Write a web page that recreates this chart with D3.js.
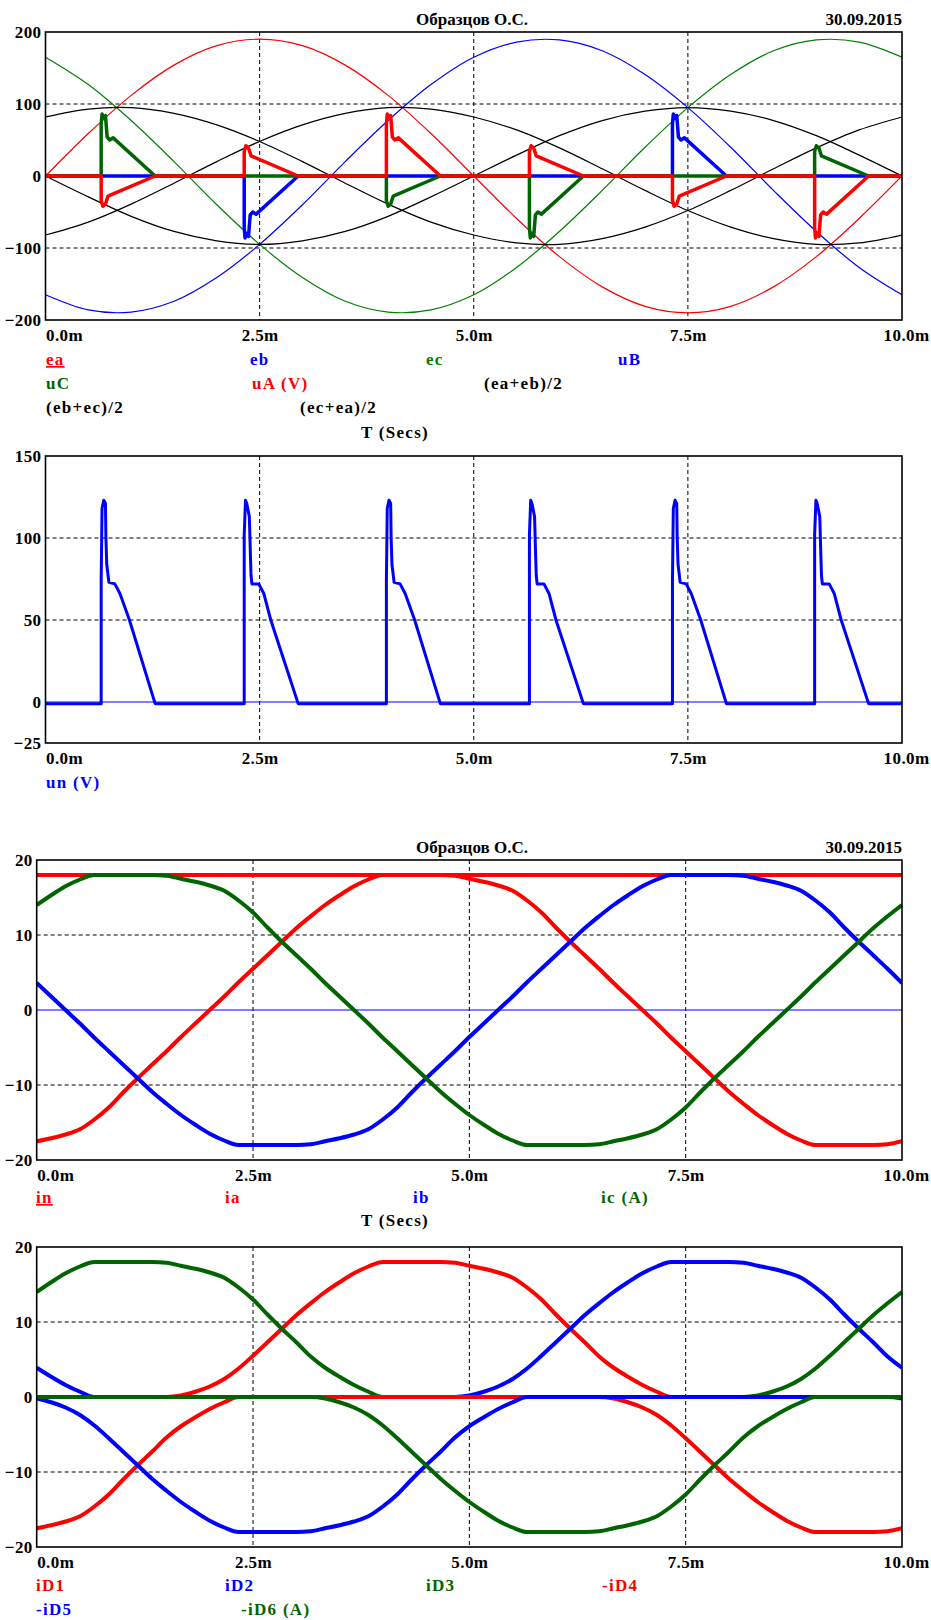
<!DOCTYPE html>
<html>
<head>
<meta charset="utf-8">
<script src="https://cdn.jsdelivr.net/npm/d3@7/dist/d3.min.js"></script>
<style>
  body { margin: 0; background: #fff; }
  #chart text { font-family: "Liberation Serif", "Times New Roman", Times, "DejaVu Serif", serif; font-weight: bold; font-size: 17px; letter-spacing: 0.4px; }
  #chart text.legend { letter-spacing: 1.3px; }
  #chart text.title { letter-spacing: 0; }
</style>
</head>
<body>
<svg id="chart" width="931" height="1620"></svg>
<script>
// time axis, ms
const xTicks = [0, 2.5, 5, 7.5, 10];
const xTickLabels = ['0.0m', '2.5m', '5.0m', '7.5m', '10.0m'];

// source voltages, sampled every 0.5 ms
const sineT = [0, 0.5, 1, 1.5, 2, 2.5, 3, 3.5, 4, 4.5, 5, 5.5, 6, 6.5, 7, 7.5, 8, 8.5, 9, 9.5, 10];
const ea = [0, 59, 112, 154, 181, 190, 181, 154, 112, 59, 0, -59, -112, -154, -181, -190, -181, -154, -112, -59, 0];
const eb = [-165, -186, -189, -174, -141, -95, -40, 20, 77, 127, 165, 186, 189, 174, 141, 95, 40, -20, -77, -127, -165];
const ec = [165, 127, 77, 20, -40, -95, -141, -174, -189, -186, -165, -127, -77, -20, 40, 95, 141, 174, 189, 186, 165];
const eab = [-82, -64, -39, -10, 20, 48, 71, 87, 95, 93, 82, 64, 39, 10, -20, -48, -71, -87, -95, -93, -82];
const ebc = [0, -29, -56, -77, -90, -95, -90, -77, -56, -29, 0, 29, 56, 77, 90, 95, 90, 77, 56, 29, 0];
const eca = [82, 93, 95, 87, 71, 48, 20, -10, -39, -64, -82, -93, -95, -87, -71, -48, -20, 10, 39, 64, 82];

// phase voltages (thick), read at the commutation spikes
const uAT = [0, 0.65, 0.65, 0.67, 0.70, 0.73, 0.77, 1.28, 2.32, 2.32, 2.34, 2.37, 2.40, 2.44, 2.95, 3.98, 3.98, 3.99, 4.01, 4.03, 4.05, 4.08, 4.12, 4.61, 5.65, 5.65, 5.67, 5.70, 5.73, 5.77, 6.28, 7.32, 7.32, 7.34, 7.37, 7.40, 7.44, 7.95, 8.98, 8.98, 8.99, 9.01, 9.03, 9.05, 9.08, 9.12, 9.61, 10];
const uAV = [0, 0, -34, -42, -39, -28, -26, 0, 0, 34, 42, 39, 28, 26, 0, 0, 72, 86, 80, 84, 54, 50, 53, 0, 0, 34, 42, 39, 28, 26, 0, 0, -34, -42, -39, -28, -26, 0, 0, -72, -86, -80, -84, -54, -50, -53, 0, 0];
const uBT = [0, 2.32, 2.32, 2.33, 2.35, 2.37, 2.39, 2.42, 2.46, 2.95, 7.32, 7.32, 7.33, 7.35, 7.37, 7.39, 7.42, 7.46, 7.95, 10];
const uBV = [0, 0, -72, -86, -80, -84, -54, -50, -53, 0, 0, 72, 86, 80, 84, 54, 50, 53, 0, 0];
const uCT = [0, 0.65, 0.65, 0.66, 0.68, 0.70, 0.72, 0.75, 0.79, 1.28, 3.98, 3.98, 4.00, 4.03, 4.06, 4.10, 4.61, 5.65, 5.65, 5.66, 5.68, 5.70, 5.72, 5.75, 5.79, 6.28, 8.98, 8.98, 9.00, 9.03, 9.06, 9.10, 9.61, 10];
const uCV = [0, 0, 72, 86, 80, 84, 54, 50, 53, 0, 0, -34, -42, -39, -28, -26, 0, 0, -72, -86, -80, -84, -54, -50, -53, 0, 0, 34, 42, 39, 28, 26, 0, 0];

// neutral voltage un
const unT = [0, 0.65, 0.65, 0.66, 0.68, 0.70, 0.705, 0.715, 0.74, 0.81, 0.87, 0.98, 1.28,
  2.32, 2.32, 2.335, 2.35, 2.38, 2.395, 2.40, 2.41, 2.49, 2.55, 2.63, 2.95,
  3.98, 3.98, 3.99, 4.01, 4.03, 4.035, 4.045, 4.07, 4.14, 4.20, 4.31, 4.61,
  5.65, 5.65, 5.665, 5.68, 5.71, 5.725, 5.73, 5.74, 5.82, 5.88, 5.96, 6.28,
  7.32, 7.32, 7.33, 7.35, 7.37, 7.375, 7.385, 7.41, 7.48, 7.54, 7.65, 7.95,
  8.98, 8.98, 8.995, 9.01, 9.04, 9.055, 9.06, 9.07, 9.15, 9.21, 9.29, 9.61, 10];
const unV = [-1, -1, 74, 118, 123, 121, 101, 84, 73, 72, 66, 50, -1,
  -1, 102, 123, 121, 113, 85, 77, 72, 72, 66, 50, -1,
  -1, 74, 118, 123, 121, 101, 84, 73, 72, 66, 50, -1,
  -1, 102, 123, 121, 113, 85, 77, 72, 72, 66, 50, -1,
  -1, 74, 118, 123, 121, 101, 84, 73, 72, 66, 50, -1,
  -1, 102, 123, 121, 113, 85, 77, 72, 72, 66, 50, -1, -1];

// currents, sampled every 1/6 ms
const iT = [
  0, 0.167, 0.333, 0.5, 0.667, 0.833, 1, 1.167, 1.333, 1.5,
  1.667, 1.833, 2, 2.167, 2.333, 2.5, 2.667, 2.833, 3, 3.167,
  3.333, 3.5, 3.667, 3.833, 4, 4.167, 4.333, 4.5, 4.667, 4.833,
  5, 5.167, 5.333, 5.5, 5.667, 5.833, 6, 6.167, 6.333, 6.5,
  6.667, 6.833, 7, 7.167, 7.333, 7.5, 7.667, 7.833, 8, 8.167,
  8.333, 8.5, 8.667, 8.833, 9, 9.167, 9.333, 9.5, 9.667, 9.833,
  10];
const inT = [0, 10];
const inV = [18, 18];
const ia = [
  -17.5, -17.1, -16.6, -15.9, -14.6, -13.0, -11.0, -9.1, -7.3, -5.5,
  -3.6, -1.8, 0, 1.8, 3.7, 5.5, 7.3, 9.1, 10.9, 12.5,
  14.0, 15.3, 16.5, 17.4, 18, 18, 18, 18, 18, 17.9,
  17.5, 17.1, 16.6, 15.9, 14.6, 13.0, 11.0, 9.1, 7.3, 5.5,
  3.6, 1.8, 0, -1.8, -3.7, -5.5, -7.3, -9.1, -10.9, -12.5,
  -14.0, -15.3, -16.5, -17.4, -18, -18, -18, -18, -18, -17.9,
  -17.5];
const ib = [
  3.6, 1.8, 0, -1.8, -3.7, -5.5, -7.3, -9.1, -10.9, -12.5,
  -14.0, -15.3, -16.5, -17.4, -18, -18, -18, -18, -18, -17.9,
  -17.5, -17.1, -16.6, -15.9, -14.6, -13.0, -11.0, -9.1, -7.3, -5.5,
  -3.6, -1.8, 0, 1.8, 3.7, 5.5, 7.3, 9.1, 10.9, 12.5,
  14.0, 15.3, 16.5, 17.4, 18, 18, 18, 18, 18, 17.9,
  17.5, 17.1, 16.6, 15.9, 14.6, 13.0, 11.0, 9.1, 7.3, 5.5,
  3.6];
const ic = [
  14.0, 15.3, 16.5, 17.4, 18, 18, 18, 18, 18, 17.9,
  17.5, 17.1, 16.6, 15.9, 14.6, 13.0, 11.0, 9.1, 7.3, 5.5,
  3.6, 1.8, 0, -1.8, -3.7, -5.5, -7.3, -9.1, -10.9, -12.5,
  -14.0, -15.3, -16.5, -17.4, -18, -18, -18, -18, -18, -17.9,
  -17.5, -17.1, -16.6, -15.9, -14.6, -13.0, -11.0, -9.1, -7.3, -5.5,
  -3.6, -1.8, 0, 1.8, 3.7, 5.5, 7.3, 9.1, 10.9, 12.5,
  14.0];

// diode currents (iD1..iD3 and the negated iD4..iD6)
const iD1 = [
  0, 0, 0, 0, 0, 0, 0, 0, 0, 0,
  0.2, 0.7, 1.4, 2.4, 3.8, 5.5, 7.3, 9.1, 10.9, 12.5,
  14.0, 15.3, 16.5, 17.4, 18, 18, 18, 18, 18, 17.9,
  17.5, 17.1, 16.6, 15.9, 14.6, 13.0, 11.0, 9.1, 7.3, 5.4,
  3.9, 2.7, 1.6, 0.7, 0, 0, 0, 0, 0, 0,
  0, 0, 0, 0, 0, 0, 0, 0, 0, 0,
  0];
const iD2 = [
  3.9, 2.7, 1.6, 0.7, 0, 0, 0, 0, 0, 0,
  0, 0, 0, 0, 0, 0, 0, 0, 0, 0,
  0, 0, 0, 0, 0, 0, 0, 0, 0, 0,
  0.2, 0.7, 1.4, 2.4, 3.8, 5.5, 7.3, 9.1, 10.9, 12.5,
  14.0, 15.3, 16.5, 17.4, 18, 18, 18, 18, 18, 17.9,
  17.5, 17.1, 16.6, 15.9, 14.6, 13.0, 11.0, 9.1, 7.3, 5.4,
  3.9];
const iD3 = [
  14.0, 15.3, 16.5, 17.4, 18, 18, 18, 18, 18, 17.9,
  17.5, 17.1, 16.6, 15.9, 14.6, 13.0, 11.0, 9.1, 7.3, 5.4,
  3.9, 2.7, 1.6, 0.7, 0, 0, 0, 0, 0, 0,
  0, 0, 0, 0, 0, 0, 0, 0, 0, 0,
  0, 0, 0, 0, 0, 0, 0, 0, 0, 0,
  0.2, 0.7, 1.4, 2.4, 3.8, 5.5, 7.3, 9.1, 10.9, 12.5,
  14.0];
const mD4 = [
  -17.5, -17.1, -16.6, -15.9, -14.6, -13.0, -11.0, -9.1, -7.3, -5.4,
  -3.9, -2.7, -1.6, -0.7, 0, 0, 0, 0, 0, 0,
  0, 0, 0, 0, 0, 0, 0, 0, 0, 0,
  0, 0, 0, 0, 0, 0, 0, 0, 0, 0,
  -0.2, -0.7, -1.4, -2.4, -3.8, -5.5, -7.3, -9.1, -10.9, -12.5,
  -14.0, -15.3, -16.5, -17.4, -18, -18, -18, -18, -18, -17.9,
  -17.5];
const mD5 = [
  -0.2, -0.7, -1.4, -2.4, -3.8, -5.5, -7.3, -9.1, -10.9, -12.5,
  -14.0, -15.3, -16.5, -17.4, -18, -18, -18, -18, -18, -17.9,
  -17.5, -17.1, -16.6, -15.9, -14.6, -13.0, -11.0, -9.1, -7.3, -5.4,
  -3.9, -2.7, -1.6, -0.7, 0, 0, 0, 0, 0, 0,
  0, 0, 0, 0, 0, 0, 0, 0, 0, 0,
  0, 0, 0, 0, 0, 0, 0, 0, 0, 0,
  -0.2];
const mD6 = [
  0, 0, 0, 0, 0, 0, 0, 0, 0, 0,
  0, 0, 0, 0, 0, 0, 0, 0, 0, 0,
  -0.2, -0.7, -1.4, -2.4, -3.8, -5.5, -7.3, -9.1, -10.9, -12.5,
  -14.0, -15.3, -16.5, -17.4, -18, -18, -18, -18, -18, -17.9,
  -17.5, -17.1, -16.6, -15.9, -14.6, -13.0, -11.0, -9.1, -7.3, -5.4,
  -3.9, -2.7, -1.6, -0.7, 0, 0, 0, 0, 0, 0,
  0];

const RED = '#ff0000', BLUE = '#0000ff', GREEN = '#008000', DKGREEN = '#006400', BLACK = '#000000';
const FONT = '"Liberation Serif", "Times New Roman", Times, "DejaVu Serif", serif';

const svg = d3.select('#chart');
svg.append('rect').attr('width', 931).attr('height', 1620).attr('fill', '#fff');

function zip(t, v) {
  return t.map((d, i) => [d, v[i]]);
}

function drawPanel(cfg) {
  const x = d3.scaleLinear().domain([0, 10]).range([cfg.left, cfg.right]);
  const y = d3.scaleLinear().domain(cfg.yDomain).range([cfg.bottom, cfg.top]);
  const g = svg.append('g');

  g.append('clipPath').attr('id', cfg.id + 'clip')
    .append('rect')
    .attr('x', cfg.left).attr('y', cfg.top)
    .attr('width', cfg.right - cfg.left).attr('height', cfg.bottom - cfg.top);

  // dashed grid
  g.selectAll('.vgrid').data([2.5, 5, 7.5]).enter().append('line')
    .attr('x1', d => x(d)).attr('x2', d => x(d))
    .attr('y1', cfg.top).attr('y2', cfg.bottom)
    .attr('stroke', '#000').attr('stroke-width', 1).attr('stroke-dasharray', '4,3');
  g.selectAll('.hgrid').data(cfg.hGrid).enter().append('line')
    .attr('x1', cfg.left).attr('x2', cfg.right)
    .attr('y1', d => y(d)).attr('y2', d => y(d))
    .attr('stroke', '#000').attr('stroke-width', 1).attr('stroke-dasharray', '4,3');

  // zero line
  g.append('line')
    .attr('x1', cfg.left).attr('x2', cfg.right)
    .attr('y1', y(0)).attr('y2', y(0))
    .attr('stroke', BLUE).attr('stroke-width', 1.2);

  const plot = g.append('g').attr('clip-path', `url(#${cfg.id}clip)`);
  cfg.series.forEach(s => {
    const line = d3.line()
      .x(d => x(d[0]))
      .y(d => y(d[1]))
      .curve(s.curve || d3.curveLinear);
    plot.append('path')
      .datum(zip(s.t, s.v))
      .attr('d', line)
      .attr('fill', 'none')
      .attr('stroke', s.color)
      .attr('stroke-width', s.width)
      .attr('stroke-linejoin', 'round');
  });

  g.append('rect')
    .attr('x', cfg.left).attr('y', cfg.top)
    .attr('width', cfg.right - cfg.left).attr('height', cfg.bottom - cfg.top)
    .attr('fill', 'none').attr('stroke', '#000').attr('stroke-width', 1.6);

  const yAxis = g.append('g')
    .attr('transform', `translate(${cfg.left},0)`)
    .call(d3.axisLeft(y).tickValues(cfg.yTicks).tickSize(0).tickPadding(4));
  const xAxis = g.append('g')
    .attr('transform', `translate(0,${cfg.bottom})`)
    .call(d3.axisBottom(x).tickValues(xTicks).tickSize(0).tickPadding(9)
      .tickFormat((d, i) => xTickLabels[i]));
  [yAxis, xAxis].forEach(a => {
    a.select('.domain').remove();
    a.attr('font-family', FONT).attr('font-size', 17);
    a.selectAll('text').attr('fill', '#000');
  });
  xAxis.selectAll('text').filter(d => d === 0).attr('text-anchor', 'start');
  xAxis.selectAll('text').filter(d => d === 10).attr('text-anchor', 'end')
    .attr('x', 929 - x(10));

  if (cfg.title) {
    g.append('text').attr('class', 'title').text('Образцов О.С.')
      .attr('x', 472).attr('y', cfg.top - 7).attr('text-anchor', 'middle');
    g.append('text').attr('class', 'title').text('30.09.2015')
      .attr('x', cfg.right).attr('y', cfg.top - 7).attr('text-anchor', 'end');
  }

  cfg.legend.forEach(l => {
    const t = g.append('text').attr('class', 'legend').text(l.text)
      .attr('x', l.x).attr('y', l.y)
      .attr('fill', l.color)
      .attr('text-anchor', l.anchor || 'start');
    if (l.underline) t.style('text-decoration', 'underline');
  });
}

const smooth = d3.curveCatmullRom.alpha(0.5);
const mono = d3.curveMonotoneX;

drawPanel({
  id: 'p1', left: 45.5, right: 902, top: 32, bottom: 320,
  yDomain: [-200, 200], yTicks: [200, 100, 0, -100, -200], hGrid: [100, -100], title: true,
  series: [
    { t: sineT, v: ea, color: RED, width: 1.2, curve: smooth },
    { t: sineT, v: eb, color: BLUE, width: 1.2, curve: smooth },
    { t: sineT, v: ec, color: GREEN, width: 1.2, curve: smooth },
    { t: sineT, v: eab, color: BLACK, width: 1.2, curve: smooth },
    { t: sineT, v: ebc, color: BLACK, width: 1.2, curve: smooth },
    { t: sineT, v: eca, color: BLACK, width: 1.2, curve: smooth },
    { t: uBT, v: uBV, color: BLUE, width: 3.5 },
    { t: uCT, v: uCV, color: DKGREEN, width: 3.5 },
    { t: uAT, v: uAV, color: RED, width: 3.5 }
  ],
  legend: [
    { text: 'ea', x: 46, y: 365, color: RED, underline: true },
    { text: 'eb', x: 250, y: 365, color: BLUE },
    { text: 'ec', x: 426, y: 365, color: GREEN },
    { text: 'uB', x: 618, y: 365, color: BLUE },
    { text: 'uC', x: 46, y: 389, color: DKGREEN },
    { text: 'uA (V)', x: 252, y: 389, color: RED },
    { text: '(ea+eb)/2', x: 484, y: 389, color: BLACK },
    { text: '(eb+ec)/2', x: 46, y: 413, color: BLACK },
    { text: '(ec+ea)/2', x: 300, y: 413, color: BLACK },
    { text: 'T (Secs)', x: 395, y: 438, color: BLACK, anchor: 'middle' }
  ]
});

drawPanel({
  id: 'p2', left: 45.5, right: 902, top: 456, bottom: 743,
  yDomain: [-25, 150], yTicks: [150, 100, 50, 0, -25], hGrid: [100, 50],
  series: [
    { t: unT, v: unV, color: BLUE, width: 3 }
  ],
  legend: [
    { text: 'un (V)', x: 46, y: 788, color: BLUE }
  ]
});

drawPanel({
  id: 'p3', left: 36.7, right: 902, top: 860, bottom: 1160,
  yDomain: [-20, 20], yTicks: [20, 10, 0, -10, -20], hGrid: [10, -10], title: true,
  series: [
    { t: inT, v: inV, color: RED, width: 4 },
    { t: iT, v: ia, color: RED, width: 4, curve: mono },
    { t: iT, v: ib, color: BLUE, width: 4, curve: mono },
    { t: iT, v: ic, color: DKGREEN, width: 4, curve: mono }
  ],
  legend: [
    { text: 'in', x: 36, y: 1203, color: RED, underline: true },
    { text: 'ia', x: 225, y: 1203, color: RED },
    { text: 'ib', x: 413, y: 1203, color: BLUE },
    { text: 'ic (A)', x: 601, y: 1203, color: DKGREEN },
    { text: 'T (Secs)', x: 395, y: 1226, color: BLACK, anchor: 'middle' }
  ]
});

drawPanel({
  id: 'p4', left: 36.7, right: 902, top: 1247, bottom: 1547,
  yDomain: [-20, 20], yTicks: [20, 10, 0, -10, -20], hGrid: [10, -10],
  series: [
    { t: iT, v: iD1, color: RED, width: 4, curve: mono },
    { t: iT, v: iD2, color: BLUE, width: 4, curve: mono },
    { t: iT, v: iD3, color: DKGREEN, width: 4, curve: mono },
    { t: iT, v: mD4, color: RED, width: 4, curve: mono },
    { t: iT, v: mD5, color: BLUE, width: 4, curve: mono },
    { t: iT, v: mD6, color: DKGREEN, width: 4, curve: mono }
  ],
  legend: [
    { text: 'iD1', x: 36, y: 1591, color: RED },
    { text: 'iD2', x: 225, y: 1591, color: BLUE },
    { text: 'iD3', x: 426, y: 1591, color: DKGREEN },
    { text: '-iD4', x: 602, y: 1591, color: RED },
    { text: '-iD5', x: 36, y: 1615, color: BLUE },
    { text: '-iD6 (A)', x: 241, y: 1615, color: DKGREEN }
  ]
});
</script>
</body>
</html>
